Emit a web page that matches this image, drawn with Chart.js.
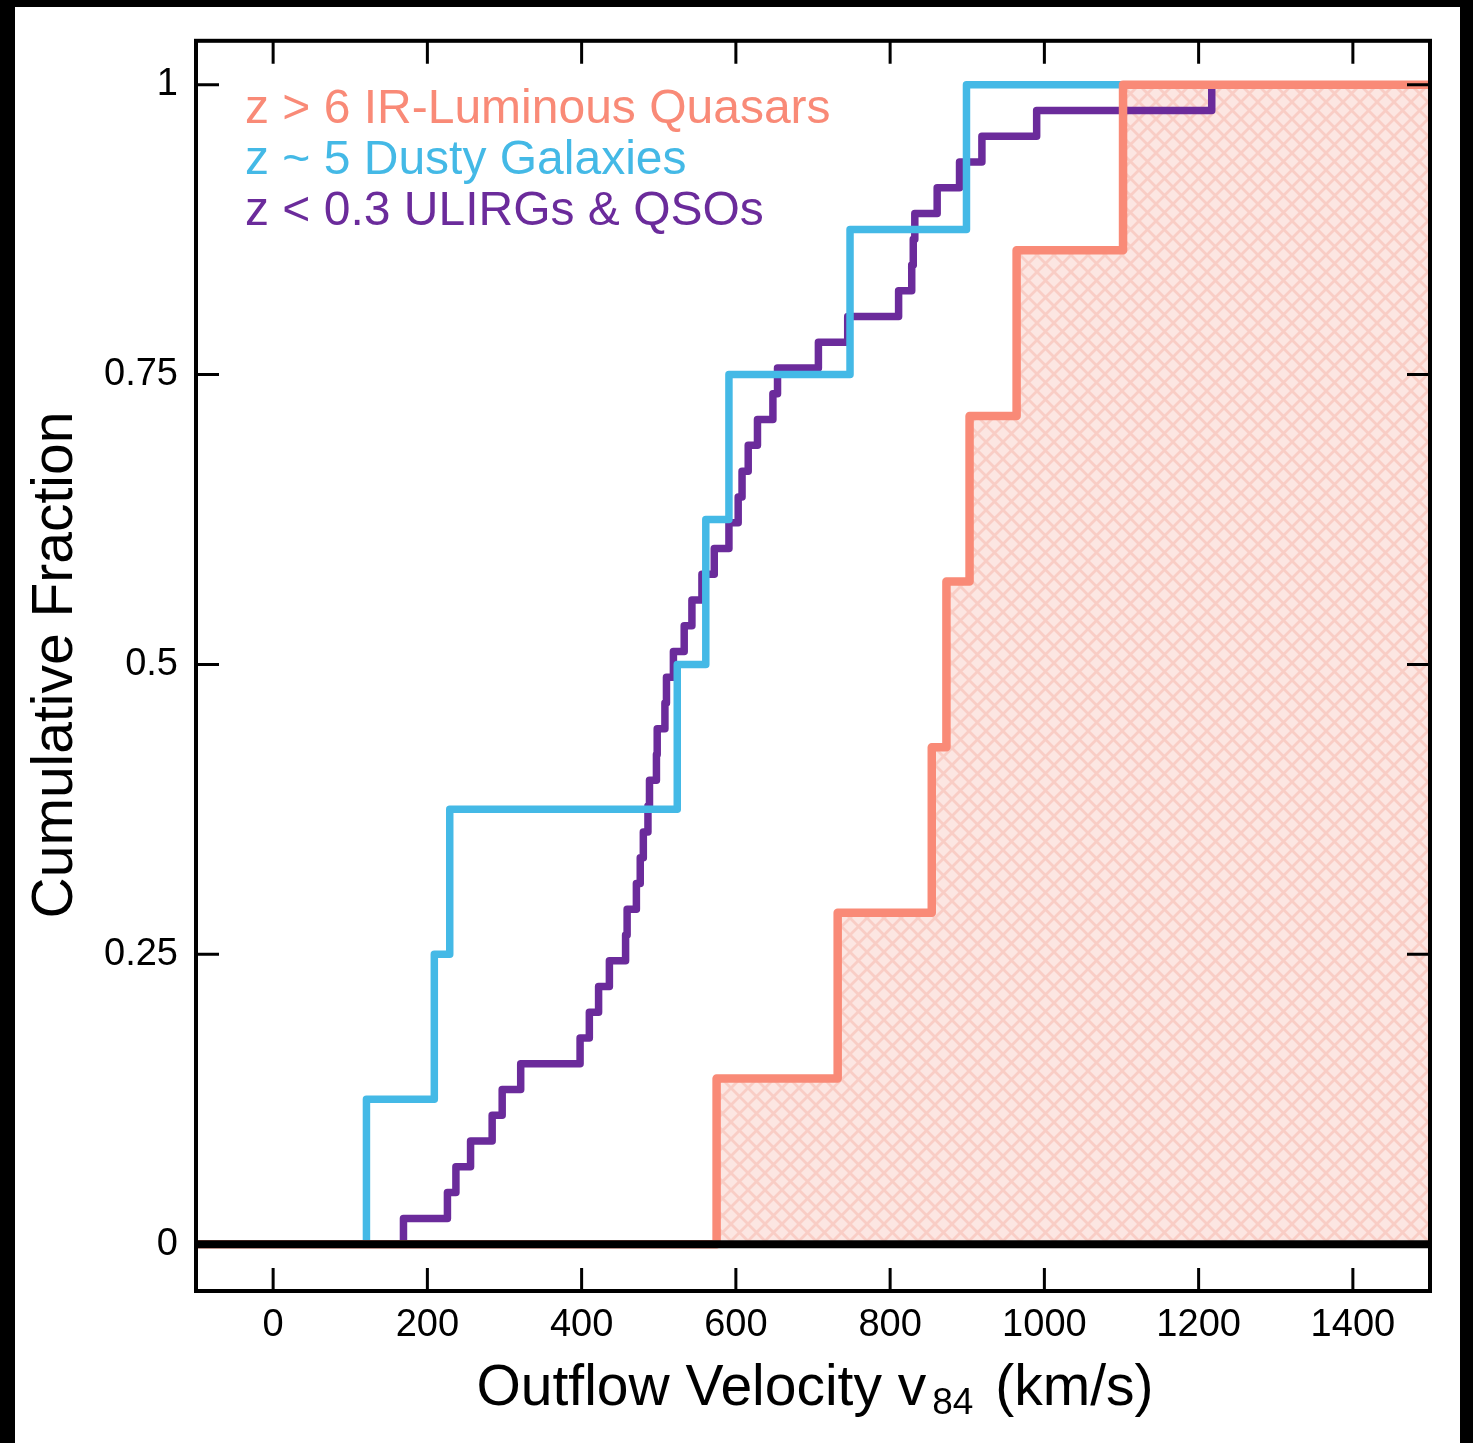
<!DOCTYPE html>
<html><head><meta charset="utf-8">
<script src="https://cdn.jsdelivr.net/npm/chart.js@4/dist/chart.umd.min.js"></script>
<style>
html,body{margin:0;padding:0;background:#000;}
#wrap{position:absolute;left:0;top:0;width:1473px;height:1443px;}
canvas{display:block;}
</style></head>
<body><div id="wrap"><canvas id="c" width="1473" height="1443"></canvas></div>
<script>
// ---------------- data ----------------
const xTicks = [0, 200, 400, 600, 800, 1000, 1200, 1400];
const yTicks = [0, 0.25, 0.5, 0.75, 1];
const yTickLabels = ['0', '0.25', '0.5', '0.75', '1'];
const seriesNames = ['z > 6 IR-Luminous Quasars', 'z ~ 5 Dusty Galaxies', 'z < 0.3 ULIRGs & QSOs'];
const xTitleMain = 'Outflow Velocity v';
const xTitleSub = '84';
const xTitleEnd = ' (km/s)';
const yTitle = 'Cumulative Fraction';

// z > 6 IR-luminous quasars: velocity of each step and cumulative fraction after it
const quasarV = [-100, 575, 732, 854, 873, 903, 964, 1102, 1500];
const quasarF = [0, 1/7, 2/7, 3/7, 4/7, 5/7, 6/7, 1, 1];

// z ~ 5 dusty galaxies
const dustyV = [-100, 121, 209, 229, 524, 561, 591, 748, 899, 1500];
const dustyF = [0, 0.125, 0.25, 0.375, 0.5, 0.625, 0.75, 0.875, 1, 1];

// z < 0.3 ULIRGs & QSOs
const ulirgV = [-100, 169, 226, 237, 256, 284, 297, 321, 398, 410, 422,
  436, 457, 459, 471, 476, 480, 486, 488, 497, 498,
  508, 510, 519, 533, 543, 556, 572, 591, 603, 608,
  616, 628, 648, 654, 707, 745, 811, 828, 830, 832,
  861, 890, 919, 990, 1217, 1500];
const ulirgF = [0, 1/45, 2/45, 3/45, 4/45, 5/45, 6/45, 7/45, 8/45, 9/45, 10/45,
  11/45, 12/45, 13/45, 14/45, 15/45, 16/45, 17/45, 18/45, 19/45, 20/45,
  21/45, 22/45, 23/45, 24/45, 25/45, 26/45, 27/45, 28/45, 29/45, 30/45,
  31/45, 32/45, 33/45, 34/45, 35/45, 36/45, 37/45, 38/45, 39/45, 40/45,
  41/45, 42/45, 43/45, 44/45, 45/45, 1];

// ---------------- style ----------------
const RED = '#f98a77';
const BLUE = '#44b9e6';
const PURPLE = '#6b2b9b';
const FONT = '"Liberation Sans", Arial, Helvetica, sans-serif';

function makeHatch() {
  const s = 17;
  const c = document.createElement('canvas');
  c.width = s; c.height = s;
  const g = c.getContext('2d');
  g.fillStyle = '#fce6e2';
  g.fillRect(0, 0, s, s);
  g.strokeStyle = '#f9cdc5';
  g.lineWidth = 2.8;
  g.beginPath();
  for (const k of [-s, 0, s]) {
    g.moveTo(k, 0); g.lineTo(k + s, s);
    g.moveTo(k, s); g.lineTo(k + s, 0);
  }
  g.stroke();
  return g.createPattern(c, 'repeat');
}

const pts = (V, F) => V.map((v, i) => ({x: v, y: F[i]}));

const framePlugin = {
  id: 'frame',
  beforeDraw(chart) {
    const ctx = chart.ctx;
    ctx.save();
    ctx.fillStyle = '#000';
    ctx.fillRect(0, 0, chart.width, chart.height);
    ctx.fillStyle = '#fff';
    ctx.fillRect(15, 7, 1445, 1436);
    ctx.restore();
  },
  afterDatasetsDraw(chart) {
    const ctx = chart.ctx;
    const a = chart.chartArea;
    const xs = chart.scales.x, ys = chart.scales.y;
    ctx.save();
    // zero line
    ctx.strokeStyle = '#000';
    ctx.lineWidth = 8;
    const y0 = ys.getPixelForValue(0);
    ctx.beginPath();
    ctx.moveTo(a.left, y0); ctx.lineTo(a.right, y0);
    ctx.stroke();
    // frame
    ctx.lineWidth = 4;
    ctx.strokeRect(a.left, a.top, a.right - a.left, a.bottom - a.top);
    // ticks
    ctx.lineWidth = 3;
    const L = 23;
    ctx.beginPath();
    for (const v of xTicks) {
      const px = xs.getPixelForValue(v);
      ctx.moveTo(px, a.bottom); ctx.lineTo(px, a.bottom - L);
      ctx.moveTo(px, a.top); ctx.lineTo(px, a.top + L);
    }
    for (const v of yTicks) {
      const py = ys.getPixelForValue(v);
      ctx.moveTo(a.left, py); ctx.lineTo(a.left + L, py);
      ctx.moveTo(a.right, py); ctx.lineTo(a.right - L, py);
    }
    ctx.stroke();

    // legend text
    const colors = [RED, BLUE, PURPLE];
    ctx.font = '48px ' + FONT;
    ctx.textAlign = 'left';
    ctx.textBaseline = 'alphabetic';
    const base = [123, 174, 225];
    seriesNames.forEach((t, i) => {
      ctx.fillStyle = colors[i];
      ctx.fillText(t, 245, base[i]);
    });

    // y title
    ctx.fillStyle = '#000';
    ctx.save();
    ctx.translate(72, 665);
    ctx.rotate(-Math.PI / 2);
    ctx.font = '57px ' + FONT;
    ctx.textAlign = 'center';
    ctx.textBaseline = 'alphabetic';
    ctx.fillText(yTitle, 0, 0);
    ctx.restore();

    // x title with subscript
    const fMain = '57px ' + FONT, fSub = '37px ' + FONT;
    ctx.font = fMain;
    const w1 = ctx.measureText(xTitleMain).width;
    const w3 = ctx.measureText(xTitleEnd).width;
    ctx.font = fSub;
    const w2 = ctx.measureText(xTitleSub).width;
    const gap = 6;
    const total = w1 + gap + w2 + 6 + w3;
    let x = 815 - total / 2;
    const by = 1405;
    ctx.textAlign = 'left';
    ctx.font = fMain; ctx.fillText(xTitleMain, x, by); x += w1 + gap;
    ctx.font = fSub; ctx.fillText(xTitleSub, x, by + 9); x += w2 + 6;
    ctx.font = fMain; ctx.fillText(xTitleEnd, x, by);
    ctx.restore();
  }
};

const chart = new Chart(document.getElementById('c'), {
  type: 'line',
  data: {
    datasets: [
      {
        label: seriesNames[0],
        data: pts(quasarV, quasarF),
        borderColor: RED,
        backgroundColor: makeHatch(),
        fill: 'origin',
        borderWidth: 8.5,
        stepped: 'before',
        pointRadius: 0,
        borderJoinStyle: 'round'
      },
      {
        label: seriesNames[1],
        data: pts(dustyV, dustyF),
        borderColor: BLUE,
        fill: false,
        borderWidth: 7.5,
        stepped: 'before',
        pointRadius: 0,
        borderJoinStyle: 'round'
      },
      {
        label: seriesNames[2],
        data: pts(ulirgV, ulirgF),
        borderColor: PURPLE,
        fill: false,
        borderWidth: 7.5,
        stepped: 'before',
        pointRadius: 0,
        borderJoinStyle: 'round'
      }
    ]
  },
  options: {
    responsive: false,
    animation: false,
    devicePixelRatio: 1,
    layout: {padding: {left: 0, top: 37, right: 43, bottom: 0}},
    plugins: {
      legend: {display: false},
      tooltip: {enabled: false},
      filler: {drawTime: 'beforeDatasetsDraw'}
    },
    scales: {
      x: {
        type: 'linear',
        min: -100, max: 1500,
        grid: {display: false, drawTicks: false},
        border: {display: false},
        afterBuildTicks: s => { s.ticks = xTicks.map(v => ({value: v})); },
        afterFit: s => { s.height = 152; },
        ticks: {
          color: '#000',
          font: {family: FONT, size: 38},
          padding: 12,
          maxRotation: 0,
          autoSkip: false,
          callback: v => String(v)
        }
      },
      y: {
        type: 'linear',
        min: -0.0404, max: 1.0378,
        grid: {display: false, drawTicks: false},
        border: {display: false},
        afterBuildTicks: s => { s.ticks = yTicks.map(v => ({value: v})); },
        afterFit: s => { s.width = 196; },
        ticks: {
          color: '#000',
          font: {family: FONT, size: 38},
          padding: 18,
          autoSkip: false,
          callback: (v) => { const i = yTicks.indexOf(v); return i >= 0 ? yTickLabels[i] : ''; }
        }
      }
    }
  },
  plugins: [framePlugin]
});
</script>
</body></html>
